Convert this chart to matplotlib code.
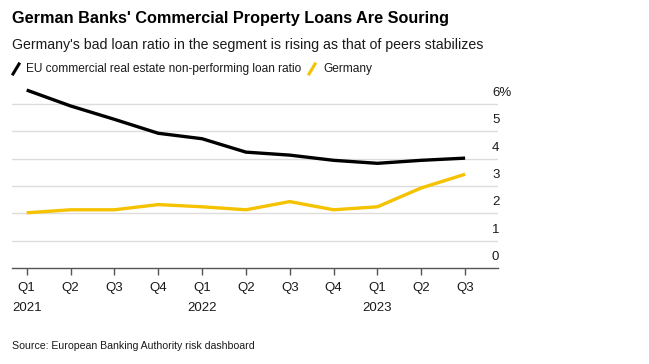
import matplotlib.pyplot as plt
import matplotlib.transforms as mtransforms
from matplotlib.lines import Line2D

plt.rcParams['font.family'] = ['Liberation Sans', 'DejaVu Sans']

quarters = ["Q1", "Q2", "Q3", "Q4", "Q1", "Q2", "Q3", "Q4", "Q1", "Q2", "Q3"]
years = ["2021", "", "", "", "2022", "", "", "", "2023", "", ""]
eu_npl = [6.51, 5.93, 5.44, 4.93, 4.73, 4.24, 4.13, 3.94, 3.83, 3.94, 4.02]
germany_npl = [2.02, 2.13, 2.13, 2.32, 2.24, 2.13, 2.43, 2.13, 2.24, 2.93, 3.43]
y_ticks = [0, 1, 2, 3, 4, 5, 6]
y_labels = ["0", "1", "2", "3", "4", "5", "6%"]

W, H = 649, 364
fig = plt.figure(figsize=(W / 100, H / 100), dpi=100)

# axes placed in pixel terms
left, right, bottom = 12, 498, 268
ymax = 6.6
px_per_unit = 27.33
top = bottom - ymax * px_per_unit
ax = fig.add_axes([left / W, 1 - bottom / H, (right - left) / W, (bottom - top) / H])

x = list(range(len(quarters)))
ax.plot(x, germany_npl, color="#f5c200", lw=2.4, solid_capstyle="butt")
ax.plot(x, eu_npl, color="#000000", lw=2.4, solid_capstyle="butt")

ax.set_xlim(-0.335, 10.75)
ax.set_ylim(0, ymax)

for v in y_ticks[1:]:
    ax.axhline(v, color="#dcdcdc", lw=1, zorder=0)

for s in ["top", "right", "left"]:
    ax.spines[s].set_visible(False)
ax.spines["bottom"].set_color("#555555")
ax.spines["bottom"].set_linewidth(1)

ax.set_yticks([])
ax.set_xticks(x)
ax.set_xticklabels([q + "\n" + y for q, y in zip(quarters, years)],
                   fontsize=9.5, color="#1a1a1a", linespacing=1.85, va="top")
ax.tick_params(axis="x", length=5, width=1, color="#555555", pad=5)

# right-side y labels sitting above the gridlines
off = mtransforms.offset_copy(ax.transData, fig=fig, x=0, y=5, units="dots")
for v, lab in zip(y_ticks, y_labels):
    tr = mtransforms.blended_transform_factory(fig.transFigure, off)
    ax.text(492 / W, v, lab, transform=tr, ha="left", va="bottom",
            fontsize=9.5, color="#1a1a1a")

fig.text(12 / W, 1 - 18 / H, "German Banks' Commercial Property Loans Are Souring",
         fontsize=11.7, fontweight="bold", va="center", ha="left")
fig.text(12 / W, 1 - 45 / H,
         "Germany's bad loan ratio in the segment is rising as that of peers stabilizes",
         fontsize=10.2, va="center", ha="left", color="#1a1a1a")

# legend
ly = 1 - 69 / H
fig.add_artist(Line2D([13 / W, 19 / W], [ly - 5 / H, ly + 5 / H], color="#000000",
                      lw=2.2, transform=fig.transFigure))
fig.text(26 / W, ly, "EU commercial real estate non-performing loan ratio",
         fontsize=8.6, va="center", ha="left", color="#1a1a1a")
fig.add_artist(Line2D([309 / W, 315 / W], [ly - 5 / H, ly + 5 / H], color="#f5c200",
                      lw=2.2, transform=fig.transFigure))
fig.text(323 / W, ly, "Germany", fontsize=8.6, va="center", ha="left", color="#1a1a1a")

fig.text(12 / W, 1 - 346 / H, "Source: European Banking Authority risk dashboard",
         fontsize=7.6, va="center", ha="left", color="#1a1a1a")

fig.savefig("out.png", dpi=100)
